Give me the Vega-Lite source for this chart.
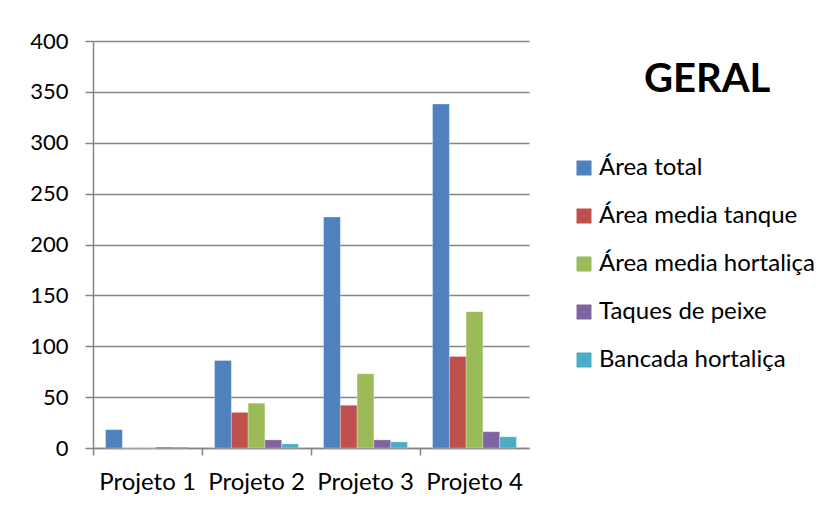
{
  "$schema": "https://vega.github.io/schema/vega-lite/v6.json",
  "autosize": "none",
  "width": 436,
  "height": 407,
  "padding": {"left": 93, "top": 41, "right": 310, "bottom": 60},
  "background": "white",
  "title": {
    "text": "GERAL",
    "anchor": "start",
    "frame": "group",
    "orient": "top",
    "baseline": "alphabetic",
    "offset": 0,
    "dx": 551,
    "dy": 102,
    "font": "Lato",
    "fontSize": 40,
    "fontWeight": "bold",
    "color": "#000000"
  },
  "data": {
    "values": [
      {"projeto": "Projeto 1", "serie": "Área total", "valor": 18},
      {"projeto": "Projeto 1", "serie": "Área media tanque", "valor": 0},
      {"projeto": "Projeto 1", "serie": "Área media hortaliça", "valor": 0},
      {"projeto": "Projeto 1", "serie": "Taques de peixe", "valor": 1},
      {"projeto": "Projeto 1", "serie": "Bancada hortaliça", "valor": 1},
      {"projeto": "Projeto 2", "serie": "Área total", "valor": 86},
      {"projeto": "Projeto 2", "serie": "Área media tanque", "valor": 35},
      {"projeto": "Projeto 2", "serie": "Área media hortaliça", "valor": 44},
      {"projeto": "Projeto 2", "serie": "Taques de peixe", "valor": 8},
      {"projeto": "Projeto 2", "serie": "Bancada hortaliça", "valor": 4},
      {"projeto": "Projeto 3", "serie": "Área total", "valor": 227},
      {"projeto": "Projeto 3", "serie": "Área media tanque", "valor": 42},
      {"projeto": "Projeto 3", "serie": "Área media hortaliça", "valor": 73},
      {"projeto": "Projeto 3", "serie": "Taques de peixe", "valor": 8},
      {"projeto": "Projeto 3", "serie": "Bancada hortaliça", "valor": 6},
      {"projeto": "Projeto 4", "serie": "Área total", "valor": 338},
      {"projeto": "Projeto 4", "serie": "Área media tanque", "valor": 90},
      {"projeto": "Projeto 4", "serie": "Área media hortaliça", "valor": 134},
      {"projeto": "Projeto 4", "serie": "Taques de peixe", "valor": 16},
      {"projeto": "Projeto 4", "serie": "Bancada hortaliça", "valor": 11}
    ]
  },
  "mark": {"type": "bar", "stroke": "#ffffff", "strokeWidth": 0.6, "strokeOpacity": 0.45},
  "encoding": {
    "x": {
      "field": "projeto",
      "type": "nominal",
      "sort": ["Projeto 1", "Projeto 2", "Projeto 3", "Projeto 4"],
      "scale": {"paddingInner": 0, "paddingOuter": 0},
      "axis": {
        "title": null,
        "labelAngle": 0,
        "bandPosition": 0,
        "labelFont": "Lato",
        "labelFontSize": 24,
        "labelColor": "#000000",
        "labelPadding": 15,
        "labelBaseline": "top",
        "labelAlign": "center",
        "domainColor": "#868686",
        "domainWidth": 1.5,
        "tickColor": "#868686",
        "tickWidth": 1.5,
        "tickSize": 7,
        "grid": false
      }
    },
    "xOffset": {
      "field": "serie",
      "type": "nominal",
      "sort": ["Área total", "Área media tanque", "Área media hortaliça", "Taques de peixe", "Bancada hortaliça"],
      "scale": {"paddingInner": 0, "paddingOuter": 0.75}
    },
    "y": {
      "field": "valor",
      "type": "quantitative",
      "scale": {"domain": [0, 400], "nice": false},
      "axis": {
        "title": null,
        "values": [0, 50, 100, 150, 200, 250, 300, 350, 400],
        "labelFont": "Lato",
        "labelFontSize": 22,
        "labelColor": "#000000",
        "labelPadding": 17,
        "domainColor": "#868686",
        "domainWidth": 1.5,
        "tickColor": "#868686",
        "tickWidth": 1.5,
        "tickSize": 8,
        "gridColor": "#868686",
        "gridWidth": 1.5
      }
    },
    "color": {
      "field": "serie",
      "type": "nominal",
      "sort": ["Área total", "Área media tanque", "Área media hortaliça", "Taques de peixe", "Bancada hortaliça"],
      "scale": {
        "domain": ["Área total", "Área media tanque", "Área media hortaliça", "Taques de peixe", "Bancada hortaliça"],
        "range": ["#4F81BD", "#C0504D", "#9BBB59", "#8064A2", "#4BACC6"]
      },
      "legend": {
        "title": null,
        "orient": "none",
        "legendX": 479,
        "legendY": 115,
        "padding": 0,
        "symbolType": "square",
        "symbolSize": 225,
        "symbolStrokeWidth": 0,
        "symbolOpacity": 1,
        "labelFont": "Lato",
        "labelFontSize": 24,
        "labelColor": "#000000",
        "labelOffset": 3,
        "rowPadding": 24,
        "labelLimit": 300
      }
    }
  },
  "config": {
    "view": {"stroke": null}
  }
}
